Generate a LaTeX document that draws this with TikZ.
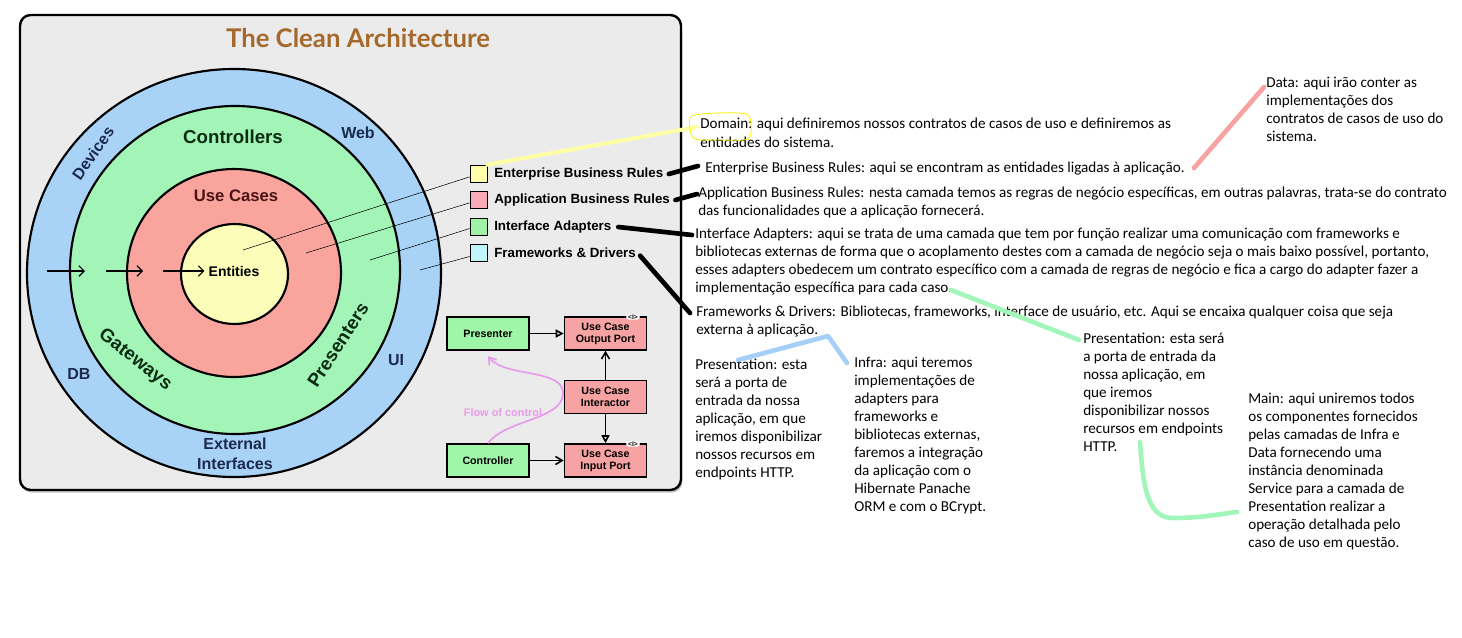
\documentclass[tikz,border=0pt]{standalone}
\usepackage{fontspec}
\setmainfont{Carlito}
\newfontfamily\labelfont{Liberation Sans}
\newfontfamily\titlefont{Lato}
\usetikzlibrary{arrows.meta,shadows}

\definecolor{panelgray}{HTML}{EBEBEB}
\definecolor{ringblue}{HTML}{A8D3F7}
\definecolor{ringgreen}{HTML}{A2F5B6}
\definecolor{ringred}{HTML}{F9A59E}
\definecolor{ringyellow}{HTML}{FDFDBA}
\definecolor{titlebrown}{HTML}{A5692C}
\definecolor{navy}{HTML}{1B2A4E}
\definecolor{darkgreen}{HTML}{0B2B12}
\definecolor{darkred}{HTML}{4A1414}
\definecolor{flowpink}{HTML}{E69CE9}
\definecolor{boxgreen}{HTML}{9FF5A8}
\definecolor{boxred}{HTML}{F7A3A3}
\definecolor{swyellow}{HTML}{FFFFAA}
\definecolor{swpink}{HTML}{F8AAB8}
\definecolor{swgreen}{HTML}{9EF3A6}
\definecolor{swcyan}{HTML}{C0F6FB}
\definecolor{markyellow}{HTML}{FFFFA6}
\definecolor{loopyellow}{HTML}{F2F200}
\definecolor{markblue}{HTML}{A6CFF7}
\definecolor{markgreen}{HTML}{A2F6BA}
\definecolor{markred}{HTML}{F8A2A2}

\tikzset{
  ring/.style={draw=black, line width=1.6pt},
  ringlabel/.style={font=\labelfont\bfseries\fontsize{12}{15}\selectfont, text=navy, inner sep=0pt},
  midlabel/.style={font=\labelfont\bfseries\fontsize{14}{14}\selectfont, text=darkgreen, inner sep=0pt},
  layerbox/.style={draw=black, line width=1.2pt, minimum width=61.5pt, minimum height=24.75pt,
    align=center, font=\labelfont\bfseries\fontsize{8}{9}\selectfont, inner sep=0pt},
  swatch/.style={draw=black, line width=0.5pt, minimum size=12.75pt, inner sep=0pt},
  legend/.style={font=\labelfont\bfseries\fontsize{10}{10}\selectfont, anchor=west, inner sep=0pt},
  note/.style={font=\fontsize{11.35}{13.5}\selectfont, anchor=base west, align=left, inner sep=0pt},
  marker/.style={line width=3.5pt, line cap=round, line join=round},
  iface/.style={fill=white, rounded corners=2pt, inner xsep=1.5pt, inner ysep=0.3pt,
    font=\labelfont\bfseries\fontsize{5}{5}\selectfont},
}

\begin{document}
\begin{tikzpicture}[x=0.75pt, y=-0.75pt]
    \useasboundingbox (0,0) rectangle (1462,638);

    \draw [line width=1.8pt, rounded corners=8pt, fill=panelgray,
      drop shadow={shadow xshift=1pt, shadow yshift=-2pt, opacity=0.45}] (20,15) rectangle (681,490);
    \node [font=\titlefont\bfseries\fontsize{19.3}{19}\selectfont, text=titlebrown] (title) at (358,38) {The Clean Architecture};

    \fill [ringblue, ring] (234,273) ellipse [x radius=207, y radius=204];
    \fill [ringgreen, ring] (235,270) ellipse [x radius=165, y radius=164];
    \fill [ringred, ring] (234,273) ellipse [x radius=107, y radius=104];
    \fill [ringyellow, ring] (234.5,274) ellipse [x radius=53.5, y radius=50];

    \node [ringlabel, rotate=55] (devices) at (93,153) {Devices};
    \node [ringlabel] (web) at (358,133) {Web};
    \node [ringlabel] (db) at (79,374) {DB};
    \node [ringlabel] (ui) at (396,360) {UI};
    \node [ringlabel, align=center] (external) at (235,454) {External\\Interfaces};
    \node [midlabel] (controllers) at (233,137) {Controllers};
    \node [midlabel, rotate=-38] (gateways) at (135,360) {Gateways};
    \node [midlabel, rotate=57] (presenters) at (338,345) {Presenters};
    \node [midlabel, text=darkred, font=\labelfont\bfseries\fontsize{12.5}{13}\selectfont] (usecases) at (236,196) {Use Cases};
    \node [font=\labelfont\bfseries\fontsize{10.5}{11}\selectfont, inner sep=0pt] (entities) at (234,271) {Entities};

    \coordinate (a1) at (47,271);
    \coordinate (a2) at (85,271);
    \coordinate (a3) at (106,271);
    \coordinate (a4) at (143,271);
    \coordinate (a5) at (163,271);
    \draw [thick, -{Straight Barb[length=4pt]}] (a1) -- (a2);
    \draw [thick, -{Straight Barb[length=4pt]}] (a3) -- (a4);
    \draw [thick, -{Straight Barb[length=4pt]}] (a5) -- ([xshift=-3pt]entities.west);

    \node [swatch, fill=swyellow] (sq1) at (478.5,173.5) {};
    \node [swatch, fill=swpink] (sq2) at (478.5,199.5) {};
    \node [swatch, fill=swgreen] (sq3) at (478.5,226.5) {};
    \node [swatch, fill=swcyan] (sq4) at (478.5,252.5) {};
    \node [legend] (lg1) at (494,174) {Enterprise Business Rules};
    \node [legend] (lg2) at (494,200) {Application Business Rules};
    \node [legend] (lg3) at (494,227) {Interface Adapters};
    \node [legend] (lg4) at (494,253) {Frameworks \& Drivers};

    \coordinate (e1) at (243,250);
    \coordinate (e2) at (306,253);
    \coordinate (e3) at (370,260);
    \coordinate (e4) at (420,270);
    \draw [line width=0.4pt] ([yshift=-2.5pt]sq1.west) -- (e1);
    \draw [line width=0.4pt] ([yshift=-2.5pt]sq2.west) -- (e2);
    \draw [line width=0.4pt] ([yshift=-1.5pt]sq3.west) -- (e3);
    \draw [line width=0.4pt] ([yshift=-3pt]sq4.west) -- (e4);

    \node [layerbox, fill=boxgreen] (presenter) at (488,333.5) {Presenter};
    \node [layerbox, fill=boxred] (outport) at (605.5,333.5) {Use Case\\Output Port};
    \node [layerbox, fill=boxred] (interactor) at (605.5,397) {Use Case\\Interactor};
    \node [layerbox, fill=boxgreen] (controller) at (488,460.5) {Controller};
    \node [layerbox, fill=boxred] (inport) at (605.5,460.5) {Use Case\\Input Port};
    \node [iface] (tagout) at (633,317) {{\textless}I{\textgreater}};
    \node [iface] (tagin) at (633,444) {{\textless}I{\textgreater}};

    \draw [line width=1.2pt, -{Triangle[open, length=6pt, width=6pt]}] (presenter) -- (outport);
    \draw [line width=1.2pt, -{Straight Barb[length=5pt, width=6pt]}] (controller) -- (inport);
    \draw [line width=1.2pt, -{Straight Barb[length=5pt, width=6pt]}] (interactor) -- (outport);
    \draw [line width=1.2pt, -{Triangle[open, length=6pt, width=6pt]}] (interactor) -- (inport);

    \draw [flowpink, line width=1.3pt, -{Straight Barb[length=5pt, width=7pt]}]
      (controller.north) .. controls (505,420) and (560,420) .. (563,395)
      .. controls (566,368) and (505,378) .. ([yshift=-4pt]presenter.south);
    \node [font=\labelfont\bfseries\fontsize{8.2}{9}\selectfont, text=flowpink] (flow) at (503,413) {Flow of control};

    \node [note] (tDomain) at (700,147) {Domain: aqui definiremos nossos contratos de casos de uso e definiremos as\\entidades do sistema.};
    \node [note] (tEBR) at (705,172) {Enterprise Business Rules: aqui se encontram as entidades ligadas à aplicação.};
    \node [note] (tABR) at (698,215) {Application Business Rules: nesta camada temos as regras de negócio específicas, em outras palavras, trata-se do contrato\\das funcionalidades que a aplicação fornecerá.};
    \node [note] (tIA) at (695,292) {Interface Adapters: aqui se trata de uma camada que tem por função realizar uma comunicação com frameworks e\\bibliotecas externas de forma que o acoplamento destes com a camada de negócio seja o mais baixo possível, portanto,\\esses adapters obedecem um contrato específico com a camada de regras de negócio e fica a cargo do adapter fazer a\\implementação específica para cada caso.};
    \node [note] (tFD) at (696,334) {Frameworks \& Drivers: Bibliotecas, frameworks, interface de usuário, etc. Aqui se encaixa qualquer coisa que seja\\externa à aplicação.};
    \node [note] (tPres) at (695,477) {Presentation: esta\\será a porta de\\entrada da nossa\\aplicação, em que\\iremos disponibilizar\\nossos recursos em\\endpoints HTTP.};
    \node [note] (tInfra) at (854,511) {Infra: aqui teremos\\implementações de\\adapters para\\frameworks e\\bibliotecas externas,\\faremos a integração\\da aplicação com o\\Hibernate Panache\\ORM e com o BCrypt.};
    \node [note] (tPres2) at (1083,451) {Presentation: esta será\\a porta de entrada da\\nossa aplicação, em\\que iremos\\disponibilizar nossos\\recursos em endpoints\\HTTP.};
    \node [note] (tMain) at (1248,547) {Main: aqui uniremos todos\\os componentes fornecidos\\pelas camadas de Infra e\\Data fornecendo uma\\instância denominada\\Service para a camada de\\Presentation realizar a\\operação detalhada pelo\\caso de uso em questão.};
    \node [note] (tData) at (1266,142) {Data: aqui irão conter as\\implementações dos\\contratos de casos de uso do\\sistema.};

    \coordinate (domIn) at (697,127);
    \coordinate (ebrIn) at (698,166);
    \coordinate (abrIn) at (697,194);
    \coordinate (iaIn) at (692,235);
    \coordinate (fdIn) at (690,313);
    \coordinate (iaOut) at (951,290);
    \coordinate (fdOut) at (828,336);
    \coordinate (dataIn) at (1264,87);
    \coordinate (ebrOut) at (1194,168);

    \draw [marker, markyellow, line width=3pt] (sq1.north east) -- (domIn);
    \draw [loopyellow, line width=0.6pt] plot [smooth cycle] coordinates
      {(692,116) (718,113) (746,114) (751,124) (748,139) (720,140) (695,139) (690,128)};
    \draw [marker, black] ([xshift=4pt]lg1.east) -- (ebrIn);
    \draw [marker, black] ([xshift=4pt]lg2.east) -- (abrIn);
    \draw [marker, black] ([xshift=5pt]lg3.east) -- (iaIn);
    \draw [marker, black] ([xshift=3pt, yshift=-2pt]lg4.east) -- (fdIn);
    \draw [marker, markred] (ebrOut) -- (dataIn);
    \draw [marker, markblue] (738,360) -- (fdOut) -- (847,363);
    \draw [marker, markgreen] (iaOut) -- (1079,340);
    \draw [marker, markgreen] (1140,442) .. controls (1143,480) and (1145,520) .. (1175,518)
      .. controls (1200,518) and (1220,514) .. (1237,512);
\end{tikzpicture}
\end{document}
